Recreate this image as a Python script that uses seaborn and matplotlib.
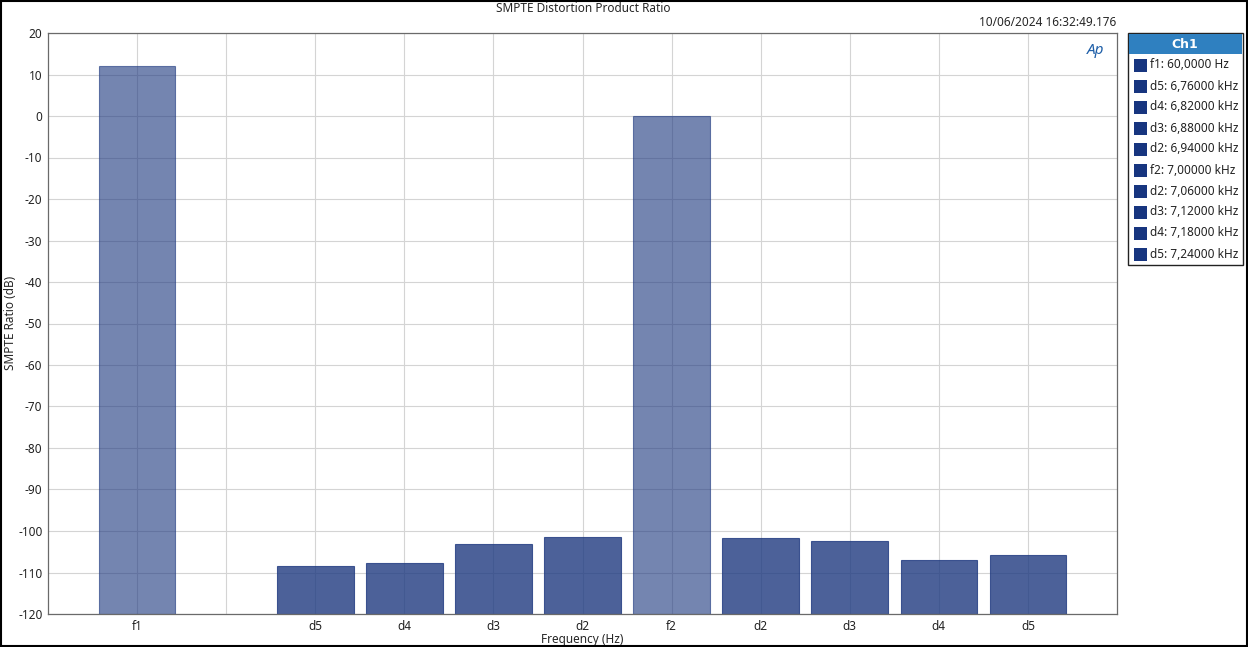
import pandas as pd
import matplotlib.pyplot as plt
import matplotlib.patches as mpatches
import seaborn as sns

# slot order on the x axis (one empty slot after f1)
slots = ['f1', 'gap', 'd5_lo', 'd4_lo', 'd3_lo', 'd2_lo', 'f2', 'd2_hi', 'd3_hi', 'd4_hi', 'd5_hi']
tick_labels = ['f1', '', 'd5', 'd4', 'd3', 'd2', 'f2', 'd2', 'd3', 'd4', 'd5']

bar_slots = ['f1', 'd5_lo', 'd4_lo', 'd3_lo', 'd2_lo', 'f2', 'd2_hi', 'd3_hi', 'd4_hi', 'd5_hi']
bar_kind = ['f', 'd', 'd', 'd', 'd', 'f', 'd', 'd', 'd', 'd']
ratio_db = [12.0, -108.4, -107.7, -103.1, -101.4, 0.0, -101.7, -102.4, -107.0, -105.8]

legend_labels = ['f1: 60,0000 Hz', 'd5: 6,76000 kHz', 'd4: 6,82000 kHz', 'd3: 6,88000 kHz',
                 'd2: 6,94000 kHz', 'f2: 7,00000 kHz', 'd2: 7,06000 kHz', 'd3: 7,12000 kHz',
                 'd4: 7,18000 kHz', 'd5: 7,24000 kHz']

df = pd.DataFrame({'slot': bar_slots, 'kind': bar_kind, 'ratio': ratio_db})
# bars rise from the bottom of the axis (-120 dB)
floor = -120
df['height'] = df['ratio'] - floor

sns.set_style('white')
plt.rcParams['font.family'] = ['Noto Sans', 'DejaVu Sans']
plt.rcParams['font.size'] = 8.5
plt.rcParams['axes.unicode_minus'] = False

W, H = 1248, 647
fig = plt.figure(figsize=(W / 100, H / 100), dpi=100)
ax = fig.add_axes([48 / W, 1 - 614 / H, (1117 - 48) / W, (614 - 33) / H])

base = '#1f3a80'
sns.barplot(data=df, x='slot', y='height', order=slots, color=base, saturation=1,
            width=0.86, bottom=floor, ax=ax, edgecolor=base, linewidth=0.8, zorder=2)
bars = [p for p in ax.patches if p.get_height() > 0]
for p, k in zip(bars, bar_kind):
    p.set_alpha(0.62 if k == 'f' else 0.8)

ax.set_ylim(-120, 20)
ax.set_xlim(-1, 11)
ax.set_yticks(range(-120, 21, 10))
ax.set_xticks(range(len(slots)))
ax.set_xticklabels(tick_labels)
ax.tick_params(length=0, pad=4, labelsize=8.5, colors='#222222')
ax.grid(True, color='#d4d4d4', linewidth=0.8, zorder=0)
ax.set_axisbelow(True)
for sp in ax.spines.values():
    sp.set_color('#6a6a6a')
    sp.set_linewidth(0.9)
ax.set_xlabel('Frequency (Hz)', fontsize=8.5, labelpad=0)
ax.set_ylabel('')

fig.text(11 / W, 1 - 323 / H, 'SMPTE Ratio (dB)', rotation=90, ha='center', va='center', fontsize=8.5)
fig.text(583 / W, 1 - 8 / H, 'SMPTE Distortion Product Ratio', ha='center', va='center', fontsize=8.5)
fig.text(1116 / W, 1 - 22 / H, '10/06/2024 16:32:49.176', ha='right', va='center', fontsize=8.5)
fig.text(1096 / W, 1 - 50 / H, 'Ap', ha='center', va='center', fontsize=11,
         fontweight='bold', fontstyle='italic', color='#1f5fa8')

# legend panel
def rect(x0, y0, x1, y1, **kw):
    fig.add_artist(mpatches.Rectangle((x0 / W, 1 - y1 / H), (x1 - x0) / W, (y1 - y0) / H,
                                      transform=fig.transFigure, **kw))

rect(1128, 33, 1243, 265, facecolor='white', edgecolor='#222222', linewidth=1)
rect(1129, 34, 1242, 54, facecolor='#2f80c0', edgecolor='none')
fig.text(1185 / W, 1 - 44 / H, 'Ch1', ha='center', va='center', fontsize=9,
         fontweight='bold', family=['DejaVu Sans'], color='white')
for i, lab in enumerate(legend_labels):
    yc = 65 + 21 * i
    rect(1134, yc - 6, 1147, yc + 7, facecolor='#17357f', edgecolor='none')
    fig.text(1150 / W, 1 - yc / H, lab, ha='left', va='center', fontsize=8.5, color='#222222')

# outer frame
rect(0.5, 0.5, W - 1, H - 1, facecolor='none', edgecolor='black', linewidth=1.5)

fig.savefig('out.png', dpi=100)
